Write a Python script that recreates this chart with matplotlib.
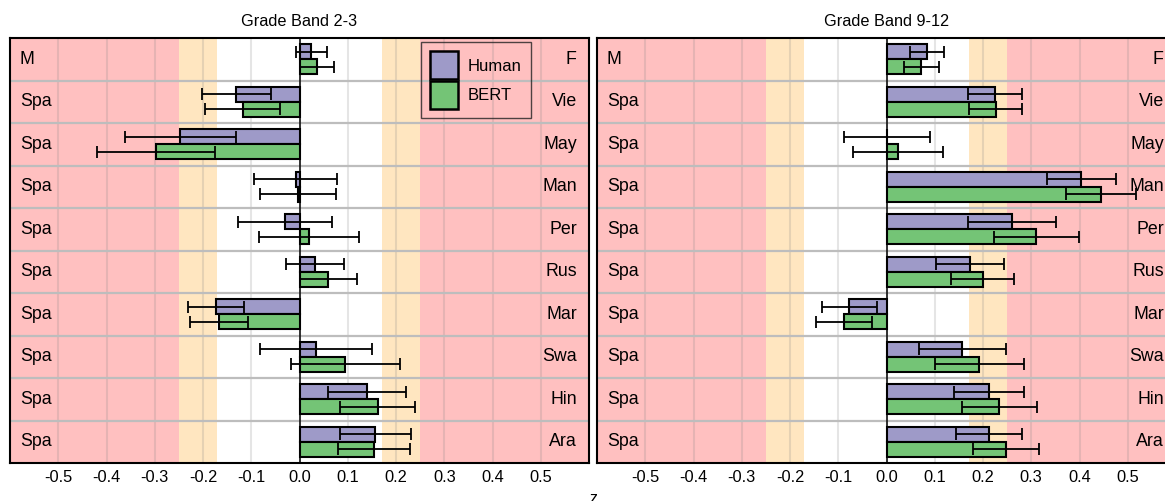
import numpy as np
import matplotlib.pyplot as plt
from matplotlib.patches import Patch

plt.rcParams['font.family'] = ['Liberation Sans', 'DejaVu Sans']

# Row labels (left / right side of each row)
left_labels = ['M'] + ['Spa'] * 9
right_labels = ['F', 'Vie', 'May', 'Man', 'Per', 'Rus', 'Mar', 'Swa', 'Hin', 'Ara']

# Grade band 2-3
band23_human = [0.024, -0.131, -0.247, -0.008, -0.030, 0.032, -0.173, 0.034, 0.140, 0.157]
band23_human_err = [0.032, 0.071, 0.115, 0.086, 0.097, 0.060, 0.058, 0.116, 0.080, 0.074]
band23_bert = [0.037, -0.118, -0.298, -0.003, 0.020, 0.060, -0.166, 0.095, 0.162, 0.154]
band23_bert_err = [0.035, 0.078, 0.122, 0.079, 0.103, 0.060, 0.060, 0.113, 0.078, 0.074]

# Grade band 9-12
band912_human = [0.084, 0.224, 0.001, 0.404, 0.260, 0.173, -0.077, 0.157, 0.212, 0.213]
band912_human_err = [0.035, 0.056, 0.089, 0.071, 0.092, 0.070, 0.057, 0.090, 0.073, 0.068]
band912_bert = [0.072, 0.226, 0.024, 0.445, 0.310, 0.199, -0.088, 0.192, 0.234, 0.248]
band912_bert_err = [0.036, 0.055, 0.094, 0.073, 0.088, 0.066, 0.058, 0.092, 0.078, 0.068]

panels = [
    ('Grade Band 2-3', band23_human, band23_human_err, band23_bert, band23_bert_err),
    ('Grade Band 9-12', band912_human, band912_human_err, band912_bert, band912_bert_err),
]

HUMAN_COLOR = '#9e9ac8'
BERT_COLOR = '#74c476'
RED = '#ffc0c0'
BEIGE = '#ffe6c0'

W, H = 1165, 501
fig = plt.figure(figsize=(W / 100, H / 100), dpi=100)

ax_w = 579 / W
ax_h = 425 / H
ax_bottom = 1 - 463 / H
axes = [fig.add_axes([10 / W, ax_bottom, ax_w, ax_h]),
        fig.add_axes([597 / W, ax_bottom, ax_w, ax_h])]

n = len(right_labels)
y = np.arange(n)
bh = 0.35
ticks = np.round(np.arange(-0.5, 0.51, 0.1), 1) + 0.0

for ax, (title, hum, hum_err, bert, bert_err) in zip(axes, panels):
    ax.set_xlim(-0.6, 0.6)
    ax.set_ylim(n - 0.5, -0.5)

    # effect-size bands
    ax.axvspan(-0.6, -0.25, color=RED, lw=0, zorder=0)
    ax.axvspan(-0.25, -0.17, color=BEIGE, lw=0, zorder=0)
    ax.axvspan(0.17, 0.25, color=BEIGE, lw=0, zorder=0)
    ax.axvspan(0.25, 0.6, color=RED, lw=0, zorder=0)

    for gx in ticks:
        ax.axvline(gx, color='#808080', alpha=0.2, lw=1.5, zorder=1)
    for gy in np.arange(0.5, n - 0.5, 1):
        ax.axhline(gy, color='#bdbdbd', lw=1.6, zorder=1)

    ax.barh(y - bh / 2, hum, height=bh, color=HUMAN_COLOR, edgecolor='black',
            lw=1.5, zorder=3)
    ax.barh(y + bh / 2, bert, height=bh, color=BERT_COLOR, edgecolor='black',
            lw=1.5, zorder=3)
    ax.errorbar(hum, y - bh / 2, xerr=hum_err, fmt='none', ecolor='black',
                elinewidth=1.3, capsize=4, capthick=1.3, zorder=4)
    ax.errorbar(bert, y + bh / 2, xerr=bert_err, fmt='none', ecolor='black',
                elinewidth=1.3, capsize=4, capthick=1.3, zorder=4)

    ax.axvline(0, color='black', lw=1.1, zorder=5)

    trans = ax.get_yaxis_transform()
    for i in range(n):
        ax.text(0.017, i, left_labels[i], transform=trans, ha='left',
                va='center', fontsize=12.8, zorder=6)
        ax.text(0.979, i, right_labels[i], transform=trans, ha='right',
                va='center', fontsize=12.8, zorder=6)

    ax.set_xticks(ticks)
    ax.set_xticklabels([f'{abs(v):.1f}' if v == 0 else f'{v:.1f}' for v in ticks])
    ax.set_yticks([])
    ax.tick_params(axis='x', length=0, pad=5, labelsize=11.8)
    for sp in ax.spines.values():
        sp.set_linewidth(1.5)
        sp.set_zorder(7)
    ax.set_title(title, fontsize=11.7, pad=9)

handles = [Patch(facecolor=HUMAN_COLOR, edgecolor='black', lw=1.8, label='Human'),
           Patch(facecolor=BERT_COLOR, edgecolor='black', lw=1.8, label='BERT')]
leg = axes[0].legend(handles=handles, loc='upper right', bbox_to_anchor=(0.8995, 0.99),
                     borderaxespad=0, fontsize=12, handlelength=1.65, handleheight=2.2,
                     labelspacing=0.1, handletextpad=0.6, borderpad=0.55,
                     fancybox=False)
leg.get_frame().set_facecolor('none')
leg.get_frame().set_edgecolor('#222222')
leg.get_frame().set_linewidth(1.0)
leg.set_zorder(8)

fig.text(593 / W, 1 - 491 / H, 'z', ha='center', va='top', fontsize=11.5)

fig.savefig('out.png', dpi=100)
